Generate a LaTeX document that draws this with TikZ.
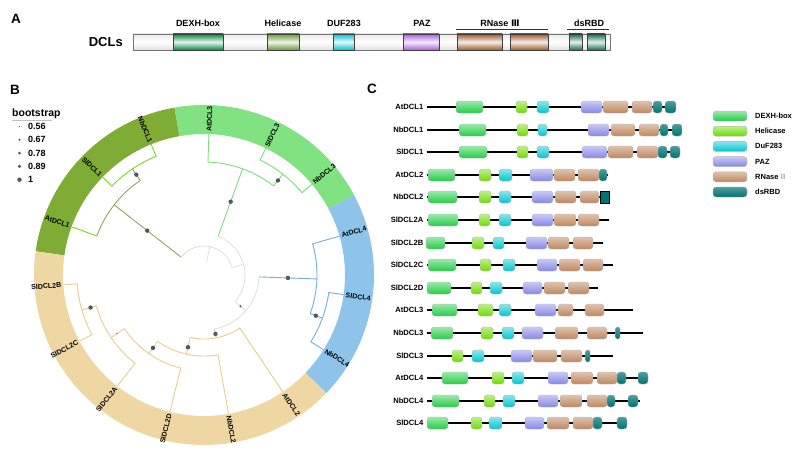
\documentclass[tikz,border=0pt]{standalone}
\usepackage{fontspec}
\setmainfont{Liberation Sans}
\newfontfamily\romfont{DejaVu Sans}
\usepackage{xcolor}
\usepackage{tikz}
% panel A colours
\definecolor{adexhc}{RGB}{0,140,60}
\definecolor{ahelic}{RGB}{105,155,55}
\definecolor{adufc}{RGB}{0,195,210}
\definecolor{apazc}{RGB}{170,95,220}
\definecolor{arnasec}{RGB}{160,90,40}
\definecolor{adsrbdc}{RGB}{20,110,80}
% panel C colours
\definecolor{dexhc}{RGB}{35,205,70}
\definecolor{helic}{RGB}{110,220,0}
\definecolor{dufc}{RGB}{0,198,208}
\definecolor{pazc}{RGB}{135,135,232}
\definecolor{rnasec}{RGB}{190,135,95}
\definecolor{dsrbdc}{RGB}{0,115,115}
% panel B colours
\definecolor{ringone}{RGB}{126,172,52}
\definecolor{ringthree}{RGB}{128,226,128}
\definecolor{ringfour}{RGB}{142,196,234}
\definecolor{ringtwo}{RGB}{238,215,162}
\definecolor{treeone}{RGB}{125,215,20}
\definecolor{treeolive}{RGB}{140,168,90}
\definecolor{treethree}{RGB}{125,220,125}
\definecolor{treefour}{RGB}{115,172,225}
\definecolor{treetwo}{RGB}{232,205,145}
\definecolor{treeroot}{RGB}{218,218,218}
\definecolor{dotc}{RGB}{80,85,98}

\tikzset{
  panlab/.style={font=\bfseries\fontsize{13.5}{16}\selectfont, inner sep=0pt},
  alab/.style={font=\bfseries\fontsize{9}{11}\selectfont, inner sep=0pt},
  rlab/.style={font=\bfseries\fontsize{7}{8}\selectfont, inner sep=0pt},
  rowlab/.style={font=\bfseries\fontsize{7.6}{9}\selectfont, inner sep=0pt},
  leglab/.style={font=\bfseries\fontsize{7.5}{9}\selectfont, inner sep=0pt, anchor=west},
  % domains, panel A
  bar/.style={draw=black!55, line width=0.5pt, top color=black!8, bottom color=black!12, middle color=white},
  adom/.style={draw=black!75, line width=0.5pt},
  adexh/.style={adom, top color=adexhc, bottom color=adexhc, middle color=adexhc!10!white},
  aheli/.style={adom, top color=ahelic, bottom color=ahelic, middle color=ahelic!12!white},
  aduf/.style={adom, top color=adufc, bottom color=adufc, middle color=adufc!10!white},
  apaz/.style={adom, top color=apazc, bottom color=apazc, middle color=apazc!12!white},
  arnase/.style={adom, top color=arnasec, bottom color=arnasec, middle color=arnasec!10!white},
  adsrbd/.style={adom, top color=adsrbdc, bottom color=adsrbdc, middle color=adsrbdc!10!white},
  % domains, panel C
  dom/.style={draw=black!30, line width=0.4pt, rounded corners=3pt},
  dexh/.style={dom, top color=dexhc!45!white, bottom color=dexhc},
  heli/.style={dom, top color=helic!45!white, bottom color=helic},
  duf/.style={dom, top color=dufc!45!white, bottom color=dufc},
  paz/.style={dom, top color=pazc!45!white, bottom color=pazc},
  rnase/.style={dom, top color=rnasec!50!white, bottom color=rnasec},
  dsrbd/.style={dom, top color=dsrbdc!70!white, bottom color=dsrbdc},
  dsn/.style={dsrbd, rounded corners=2pt},
  dsq/.style={draw=black, line width=0.5pt, fill=dsrbdc},
  backbone/.style={black, line width=1.2pt},
  % tree branches
  tone/.style={draw=treeone, line width=0.9pt},
  tolive/.style={draw=treeolive, line width=0.9pt},
  tthree/.style={draw=treethree, line width=0.9pt},
  tfour/.style={draw=treefour, line width=0.9pt},
  ttwo/.style={draw=treetwo, line width=0.9pt},
  troot/.style={draw=treeroot, line width=0.7pt}
}

\begin{document}
\begin{tikzpicture}[x=1pt, y=-1pt]
\useasboundingbox (0,0) rectangle (798,452);

% ---------- A: domain scheme ----------
\node[panlab] (panA) at (16,19) {A};
\node[font=\bfseries\fontsize{13}{15}\selectfont, inner sep=0pt, anchor=east] (dcls) at (123,42) {DCLs};
\draw[bar] (133,34) rectangle (610,50);
\foreach \t/\a/\b in {adexh/173/223, aheli/267/299, aduf/333/354, apaz/403/439,
  arnase/457/502, arnase/510/548, adsrbd/569/582, adsrbd/587/605}
  \draw[\t] (\a,34) rectangle (\b,50);
\node[alab] (hdDEXH) at (198,23) {DEXH-box};
\node[alab] (hdHel) at (283,23) {Helicase};
\node[alab] (hdDUF) at (344,23) {DUF283};
\node[alab] (hdPAZ) at (422,23) {PAZ};
\node[alab] (hdRN) at (500,23) {RNase {\romfont Ⅲ}};
\node[alab] (hdDS) at (589,23) {dsRBD};
\draw[black!80, line width=0.8pt] (456,29.5) -- (548,29.5);
\draw[black!80, line width=0.8pt] (567,29.5) -- (609,29.5);

% ---------- B: circular tree ----------
\node[panlab] (panB) at (15,90) {B};
\node[font=\bfseries\fontsize{10.5}{12}\selectfont, inner sep=0pt, anchor=west] (boot) at (12,114) {bootstrap};
\draw[black!25] (12,120.5) -- (52,120.5);
\foreach \v/\s [count=\k from 0] in {0.56/0.7, 0.67/1.1, 0.78/1.5, 0.89/1.8, 1/2.2}{
  \fill[dotc] (19.5,{126.5+13.3*\k}) circle[radius=\s];
  \node[font=\bfseries\fontsize{9}{11}\selectfont, inner sep=0pt, anchor=west] (bs\k) at (28,{126.5+13.3*\k}) {\v};
}

\begin{scope}[shift={(204,275)}, y=1pt]
% coloured ring
\foreach \a/\b/\c in {100/172/ringone, 28/100/ringthree, -44/28/ringfour, -188/-44/ringtwo}
  \fill[\c] (\a:141) arc[start angle=\a, end angle=\b, radius=141]
    -- (\b:170) arc[start angle=\b, end angle=\a, radius=170] -- cycle;
% leaf labels
\foreach \a/\nm in {88/AtDCL3, 64/SlDCL3, 40/NbDCL3, 16/AtDCL4, -8/SlDCL4, -32/NbDCL4, -56/AtDCL2, -80/NbDCL2}
  \node[rlab, anchor=west, rotate=\a] (leaf\nm) at (\a:143) {\nm};
\foreach \a/\nm in {160/AtDCL1, 136/SlDCL1, 112/NbDCL1, -104/SlDCL2D, -128/SlDCL2A, -152/SlDCL2C, -176/SlDCL2B}
  \node[rlab, anchor=east, rotate=\a+180] (leaf\nm) at (\a:143) {\nm};

% DCL1 clade
\draw[tone] (136:141) -- (136:128) arc[start angle=136, end angle=112, radius=128] -- (112:141);
\draw[tone] (160:141) -- (160:114);
\draw[tolive] (124:128) -- (124:114);
\draw[tolive] (160:114) arc[start angle=160, end angle=124, radius=114];
\draw[tolive] (142:114) -- (142:29);
% DCL3 clade
\draw[tthree] (64:141) -- (64:128) arc[start angle=64, end angle=40, radius=128] -- (40:141);
\draw[tthree] (52:128) -- (52:113);
\draw[tthree] (88:141) -- (88:113) arc[start angle=88, end angle=52, radius=113];
\draw[tthree] (70:113) -- (70:41);
% DCL4 clade
\draw[tfour] (-8:141) -- (-8:126) arc[start angle=-8, end angle=-32, radius=126] -- (-32:141);
\draw[tfour] (-20:126) -- (-20:113);
\draw[tfour] (16:141) -- (16:113) arc[start angle=16, end angle=-20, radius=113];
\draw[tfour] (-2:113) -- (-2:55);
% DCL2 clade
\draw[ttwo] (-152:141) -- (-152:127) arc[start angle=-152, end angle=-176, radius=127] -- (-176:141);
\draw[ttwo] (-164:127) -- (-164:112);
\draw[ttwo] (-128:141) -- (-128:112) arc[start angle=-128, end angle=-164, radius=112];
\draw[ttwo] (-146:112) -- (-146:96);
\draw[ttwo] (-104:141) -- (-104:96) arc[start angle=-104, end angle=-146, radius=96];
\draw[ttwo] (-125:96) -- (-125:81);
\draw[ttwo] (-80:141) -- (-80:81) arc[start angle=-80, end angle=-125, radius=81];
\draw[ttwo] (-102.5:81) -- (-102.5:64);
\draw[ttwo] (-56:141) -- (-56:64) arc[start angle=-56, end angle=-102.5, radius=64];
\draw[ttwo] (-79:64) -- (-79:55);
% backbone of the tree
\draw[troot] (-2:55) arc[start angle=-2, end angle=-79, radius=55];
\draw[troot] (-40.5:55) -- (-40.5:41);
\draw[troot] (70:41) arc[start angle=70, end angle=-40.5, radius=41];
\draw[troot] (15:41) -- (15:29);
\draw[troot] (142:29) arc[start angle=142, end angle=15, radius=29];
\draw[troot] (78.5:29) -- (78.5:13);
% bootstrap dots
\foreach \a/\r/\s in {124/121/2.2, 142/72/2.2, 52/120/2.2, 70/78/2.2, -2/84/2.2, -20/119/2.2,
  -164/118/2.2, -146/105/0.7, -125/89/2.2, -102.5/74/2.2, -79/60/2.2, -40.5/48/1.1}
  \fill[dotc] (\a:\r) circle[radius=\s];
\end{scope}

% ---------- C: domain structures ----------
\node[panlab] (panC) at (372,89) {C};
\foreach \nm/\len/\doms [count=\i from 0] in {
  AtDCL1/674/{dexh/456/483, heli/516/527, duf/537/549, paz/581/602, rnase/603/628, rnase/632/652, dsrbd/653/662, dsrbd/665/676},
  NbDCL1/682/{dexh/459/486, heli/517/528, duf/538/547, paz/588/609, rnase/611/635, rnase/639/659, dsrbd/660/668, dsrbd/672/682},
  SlDCL1/680/{dexh/459/487, heli/517/528, duf/537/549, paz/582/607, rnase/608/633, rnase/637/658, dsrbd/658/667, dsrbd/670/680},
  AtDCL2/608/{dexh/428/455, heli/479/491, duf/499/512, paz/530/553, rnase/554/575, rnase/578/599, dsrbd/599/607},
  NbDCL2/609/{dexh/428/457, heli/479/491, duf/499/511, paz/532/553, rnase/555/576, rnase/580/599, dsq/600/609},
  SlDCL2A/609/{dexh/428/458, heli/479/490, duf/499/511, paz/532/553, rnase/554/576, rnase/578/599},
  SlDCL2B/603/{dexh/426/445, heli/472/484, duf/493/504, paz/526/547, rnase/548/569, rnase/573/593},
  SlDCL2C/613/{dexh/428/456, heli/480/491, duf/503/515, paz/537/557, rnase/559/580, rnase/583/603},
  SlDCL2D/598/{dexh/427/451, heli/471/482, duf/490/502, paz/523/542, rnase/544/565, rnase/568/589},
  AtDCL3/633/{dexh/432/457, heli/478/493, duf/499/511, paz/535/556, rnase/558/573, rnase/585/604},
  NbDCL3/643/{dexh/431/453, heli/481/493, duf/502/514, paz/522/543, rnase/555/578, rnase/587/607, dsn/615.5/620},
  SlDCL3/613/{heli/452/463, duf/472/484, paz/511/532, rnase/533/557, rnase/561/582, dsn/585.5/590},
  AtDCL4/648/{dexh/442/468, heli/492/504, duf/512/524, paz/548/568, rnase/571/593, rnase/597/617, dsrbd/617/626, dsrbd/638/648},
  NbDCL4/640/{dexh/432/459, heli/484/495, duf/503/515, paz/538/558, rnase/560/582, rnase/587/607, dsrbd/607/615, dsrbd/628/638},
  SlDCL4/626/{dexh/427/448, heli/471/482, duf/489/502, paz/525/544, rnase/547/569, rnase/573/593, dsrbd/593/602, dsrbd/617/627}}{
  \pgfmathsetmacro{\yy}{round(107+22.6*\i)}
  \node[rowlab, anchor=east] (row\nm) at (423.5,\yy) {\nm};
  \draw[backbone] ([xshift=3pt]row\nm.east) -- (\len,\yy);
  \foreach \t/\a/\b in \doms
    \draw[\t] (\a,\yy-6) rectangle (\b,\yy+6);
}

% Legend
\foreach \t/\txt [count=\k from 0] in {dexh/DEXH-box, heli/Helicase, duf/DuF283, paz/PAZ,
  rnase/{RNase {\romfont\mdseries\color{black!35}Ⅲ}}, dsrbd/dsRBD}{
  \draw[\t] (713,{111+15.2*\k}) rectangle (747,{121+15.2*\k});
  \node[leglab] (key\t) at (755,{116+15.2*\k}) {\txt};
}
\end{tikzpicture}
\end{document}
